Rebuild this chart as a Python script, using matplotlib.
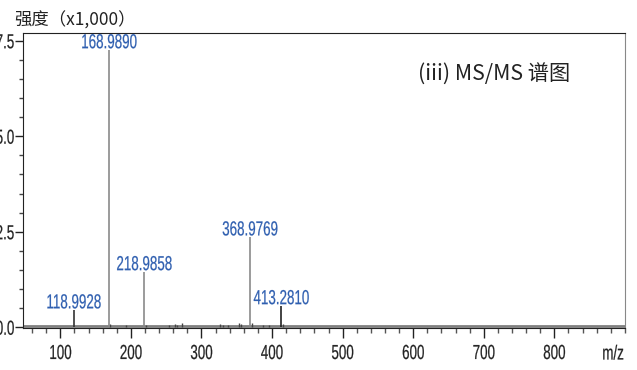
import matplotlib
matplotlib.use("Agg")
import matplotlib.pyplot as plt
from matplotlib.ticker import MultipleLocator, FixedLocator
from matplotlib.patheffects import AbstractPathEffect
from matplotlib.transforms import Affine2D

# Data
main_mz = [118.9928, 168.9890, 218.9858, 368.9769, 413.2810]
main_int = [0.44, 7.25, 1.44, 2.35, 0.55]
main_labels = ["118.9928", "168.9890", "218.9858", "368.9769", "413.2810"]
main_colors = ["#333333", "#8a8a8a", "#8a8a8a", "#8a8a8a", "#222222"]
noise_mz = [171.0, 193.0, 222.0, 254.0, 262.0, 266.0, 273.0, 326.0, 330.0,
            337.0, 353.0, 356.0, 371.0, 387.0, 396.0, 415.0]
noise_int = [0.08, 0.07, 0.06, 0.07, 0.08, 0.06, 0.11, 0.08, 0.06,
             0.05, 0.10, 0.08, 0.12, 0.07, 0.06, 0.08]
x_major = [100, 200, 300, 400, 500, 600, 700, 800]
y_major = [0.0, 2.5, 5.0, 7.5]


class Squeeze(AbstractPathEffect):
    """Draw text horizontally condensed (like a narrow font)."""
    def __init__(self, sx=0.6, anchor="center", lw=0.15):
        super().__init__()
        self.sx = sx
        self.anchor = anchor
        self.lw = lw

    def draw_path(self, renderer, gc, tpath, affine, rgbFace=None):
        ext = tpath.get_extents()
        if self.anchor == "center":
            cx = (ext.x0 + ext.x1) / 2
        elif self.anchor == "left":
            cx = ext.x0
        else:
            cx = ext.x1
        t = Affine2D().translate(-cx, 0).scale(self.sx, 1).translate(cx, 0) + affine
        gc0 = renderer.new_gc()
        gc0.copy_properties(gc)
        gc0.set_linewidth(self.lw)
        if rgbFace is not None:
            gc0.set_foreground(rgbFace)
        renderer.draw_path(gc0, tpath, t, rgbFace)
        gc0.restore()


NUMFONT = "Liberation Sans"
SX = 0.66
NUMSIZE = 14.6

fig = plt.figure(figsize=(6.37, 3.70), dpi=100)
ax = fig.add_axes([0.036, 0.1135, 0.945, 0.797])

ax.vlines(noise_mz, 0, noise_int, color="#444444", lw=1.0)
ax.vlines(main_mz, 0, main_int, colors=main_colors, lw=1.2)
ax.axhline(0.03, color="#808080", lw=2.0, zorder=1)

for mz, it, lab in zip(main_mz, main_int, main_labels):
    t = ax.annotate(lab, (mz, it), xytext=(0, 1.5), textcoords="offset points",
                    ha="center", va="baseline", color="#2f5fb0",
                    fontsize=NUMSIZE, family=NUMFONT)
    t.set_path_effects([Squeeze(SX, "center")])

ax.set_xlim(47, 900)
ax.set_ylim(-0.02, 7.7)
ax.xaxis.set_major_locator(FixedLocator(x_major))
ax.xaxis.set_minor_locator(MultipleLocator(20))
ax.yaxis.set_major_locator(FixedLocator(y_major))
ax.yaxis.set_minor_locator(MultipleLocator(0.5))
ax.set_xticklabels([str(v) for v in x_major], family=NUMFONT, fontsize=NUMSIZE, color="#222222")
ax.set_yticklabels(["%.1f" % v for v in y_major], family=NUMFONT, fontsize=NUMSIZE, color="#222222")
for lab in ax.get_xticklabels():
    lab.set_path_effects([Squeeze(SX, "center")])
for lab in ax.get_yticklabels():
    lab.set_path_effects([Squeeze(SX, "right")])

ax.tick_params(axis="x", which="major", length=7.5, width=1, direction="out", color="#222222", pad=4)
ax.tick_params(axis="x", which="minor", length=3.8, width=1, direction="out", color="#555555")
ax.tick_params(axis="y", which="major", length=6, width=1, direction="out", color="#222222", pad=0)
ax.tick_params(axis="y", which="minor", length=3, width=1, direction="out", color="#444444")

for s in ["top", "left", "bottom"]:
    ax.spines[s].set_color("#222222")
ax.spines["right"].set_color("#888888")

mz_t = fig.text(613 / 637, 1 - 354 / 370, "m/z", ha="center", va="center",
                family=NUMFONT, fontsize=NUMSIZE, color="#222222")
mz_t.set_path_effects([Squeeze(SX, "center")])
fig.text(14 / 637, 1 - 20.5 / 370, "强度（x1,000）", ha="left", va="center",
         family=["Noto Sans CJK SC", "DejaVu Sans"], fontsize=12.5, color="#222222")
ax.text(0.656, 0.858, "(iii) MS/MS 谱图", transform=ax.transAxes, ha="left", va="center",
        family=["Noto Sans CJK SC", "DejaVu Sans"], fontsize=15.3, color="#222222")

fig.savefig("out.png", dpi=100)
